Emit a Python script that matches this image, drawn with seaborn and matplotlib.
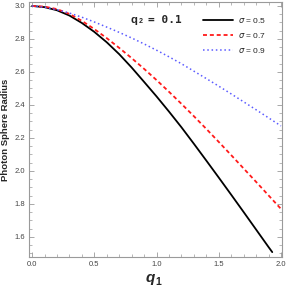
import numpy as np
import pandas as pd
import matplotlib
matplotlib.use("Agg")
import matplotlib.pyplot as plt
import seaborn as sns
from matplotlib.ticker import MultipleLocator, FormatStrFormatter

# q1 grid and photon sphere radius (q2 = 0.1)
q1 = [0.0, 0.1, 0.2, 0.3, 0.4, 0.5, 0.6, 0.7, 0.8, 0.9, 1.0,
      1.1, 1.2, 1.3, 1.4, 1.5, 1.6, 1.7, 1.8, 1.9, 2.0]
r_sigma05 = [3.000, 2.993, 2.974, 2.942, 2.897, 2.843, 2.780, 2.708, 2.627, 2.540, 2.452,
             2.360, 2.265, 2.165, 2.063, 1.960, 1.856, 1.751, 1.645, 1.539]
r_sigma07 = [3.000, 2.996, 2.981, 2.952, 2.910, 2.860, 2.805, 2.746, 2.684, 2.619, 2.551,
             2.480, 2.407, 2.332, 2.255, 2.176, 2.096, 2.015, 1.934, 1.852, 1.770]
r_sigma09 = [3.000, 2.992, 2.977, 2.957, 2.932, 2.903, 2.872, 2.840, 2.806, 2.770, 2.732,
             2.692, 2.650, 2.605, 2.560, 2.514, 2.467, 2.419, 2.371, 2.322, 2.273]
# black curve stops a bit before q1 = 2
q1_end05 = 1.93
r_end05 = 1.508

labels = [r"$\sigma$ = 0.5", r"$\sigma$ = 0.7", r"$\sigma$ = 0.9"]
colors = ["black", "#ff1a1a", "#5b5bff"]

df05 = pd.DataFrame({"q1": q1[:20] + [q1_end05], "r": r_sigma05 + [r_end05]})
df07 = pd.DataFrame({"q1": q1, "r": r_sigma07})
df09 = pd.DataFrame({"q1": q1, "r": r_sigma09})

sns.set_style("ticks")
plt.rcParams["font.family"] = ["Liberation Sans", "DejaVu Sans"]

fig = plt.figure(figsize=(2.88, 2.88), dpi=100)
ax = fig.add_axes([0.101, 0.108, 0.878, 0.885])

sns.lineplot(data=df05, x="q1", y="r", ax=ax, color=colors[0], lw=1.3,
             label=labels[0], estimator=None, sort=False)
sns.lineplot(data=df07, x="q1", y="r", ax=ax, color=colors[1], lw=1.3,
             linestyle=(0, (2.2, 1.6)), label=labels[1], estimator=None)
sns.lineplot(data=df09, x="q1", y="r", ax=ax, color=colors[2], lw=1.1,
             linestyle=(0, (1, 1.8)), label=labels[2], estimator=None)

ax.set_xlim(-0.024, 2.008)
ax.set_ylim(1.479, 3.024)
ax.xaxis.set_major_locator(MultipleLocator(0.5))
ax.xaxis.set_minor_locator(MultipleLocator(0.1))
ax.yaxis.set_major_locator(MultipleLocator(0.2))
ax.yaxis.set_minor_locator(MultipleLocator(0.05))
ax.xaxis.set_major_formatter(FormatStrFormatter("%.1f"))
ax.yaxis.set_major_formatter(FormatStrFormatter("%.1f"))

gray = "#9a9a9a"
for s in ax.spines.values():
    s.set_color(gray)
    s.set_linewidth(0.8)
ax.tick_params(which="both", direction="in", top=True, right=True,
               color=gray, labelsize=5.5, labelcolor="#444444", pad=3)
ax.tick_params(which="major", length=3.5, width=0.6)
ax.tick_params(which="minor", length=2, width=0.5)

# x label: italic bold q with subscript 1
ax.set_xlabel("")
fig.text(0.505, 0.022, "q", fontsize=11, fontweight="bold", style="italic")
fig.text(0.540, 0.012, "1", fontsize=7.5, fontweight="bold")
ax.set_ylabel("Photon Sphere Radius", fontsize=6.8, fontweight="bold", labelpad=3)

ax.text(0.79, 2.915, "q", fontsize=8, fontweight="bold", va="center")
ax.text(0.855, 2.905, "2", fontsize=5, fontweight="bold", va="center")
ax.text(0.93, 2.915, "= 0.1", fontsize=8, fontweight="bold", va="center",
        family="DejaVu Sans Mono")

leg = ax.legend(loc="upper right", frameon=False, fontsize=6, handlelength=3.6,
                handletextpad=0.6, labelspacing=0.75, borderaxespad=0.4,
                bbox_to_anchor=(0.965, 0.973))

fig.savefig("out.png", dpi=100)
